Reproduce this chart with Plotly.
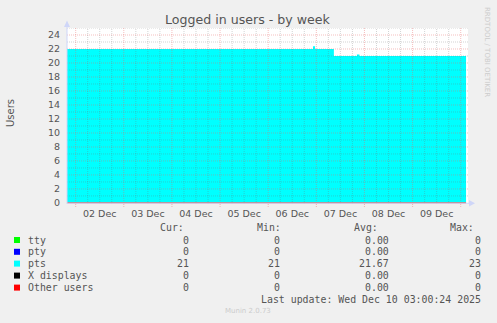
import plotly.graph_objects as go
import pandas as pd

# ---------------- data ----------------
times = ["2025-12-01 19:00", "2025-12-06 22:20", "2025-12-06 23:20", "2025-12-07 08:45",
         "2025-12-07 20:15", "2025-12-07 21:30", "2025-12-10 02:40"]
tty = [0, 0, 0, 0, 0, 0, 0]
pty = [0, 0, 0, 0, 0, 0, 0]
pts = [22, 22.4, 22, 21, 21.2, 21, 21]
xdisp = [0, 0, 0, 0, 0, 0, 0]
other = [0, 0, 0, 0, 0, 0, 0]

day_labels = ["02 Dec", "03 Dec", "04 Dec", "05 Dec", "06 Dec", "07 Dec", "08 Dec", "09 Dec"]
day_label_pos = ["2025-12-02 12:00", "2025-12-03 12:00", "2025-12-04 12:00", "2025-12-05 12:00",
                 "2025-12-06 12:00", "2025-12-07 12:00", "2025-12-08 12:00", "2025-12-09 12:00"]
y_ticks = [0, 2, 4, 6, 8, 10, 12, 14, 16, 18, 20, 22, 24]

series_names = ["tty", "pty", "pts", "X displays", "Other users"]
series_colors = ["#00ff00", "#0000ff", "#00ffff", "#000000", "#ff0000"]
cur_vals = [0, 0, 21, 0, 0]
min_vals = [0, 0, 21, 0, 0]
avg_vals = [0.00, 0.00, 21.67, 0.00, 0.00]
max_vals = [0, 0, 23, 0, 0]

x_range = ["2025-12-01 19:40", "2025-12-10 03:38"]
y_range = [-0.15, 25]

# ---------------- layout helpers ----------------
W, H = 497, 323
L, R, T, B = 67, 468, 28, 204
def px(x): return (x - L) / (R - L)
def py(y): return (B - y) / (B - T)

FONT = "DejaVu Sans"
MONO = "DejaVu Sans Mono"
TXT = "#555555"
AXIS = "#CFD6F8"

fig = go.Figure()
fig.add_trace(go.Scatter(x=times, y=pts, mode="lines", line=dict(shape="hv", width=0, color="#00ffff"),
                         fill="tozeroy", fillcolor="#00ffff", name="pts", hoverinfo="skip"))
for vals, col in [(tty, "#00ff00"), (pty, "#0000ff"), (xdisp, "#000000")]:
    fig.add_trace(go.Scatter(x=times, y=vals, mode="lines", line=dict(shape="hv", width=0, color=col),
                             hoverinfo="skip"))

shapes = []
# grid (drawn above data, like rrdtool)
MAJ = "rgba(230,100,100,0.42)"
MIN = "rgba(110,110,110,0.30)"
DASH = "1px,1px"
for v in range(1, 26):
    shapes.append(dict(type="line", xref="paper", yref="y", x0=0, x1=1, y0=v, y1=v, layer="above",
                       line=dict(color=MAJ if v % 2 == 0 else MIN, width=1, dash=DASH)))
for t in pd.date_range("2025-12-01 18:00", "2025-12-10 06:00", freq="6h"):
    if pd.Timestamp(x_range[0]) <= t <= pd.Timestamp(x_range[1]):
        major = t.hour == 0
        shapes.append(dict(type="line", xref="x", yref="paper", x0=t, x1=t,
                           y0=py(207) if major else 0, y1=1, layer="above",
                           line=dict(color=MAJ if major else MIN, width=1, dash=DASH)))
# axes + arrows
shapes.append(dict(type="line", xref="paper", yref="paper", x0=0, x1=0, y0=py(204), y1=py(26),
                   line=dict(color=AXIS, width=1), layer="above"))
shapes.append(dict(type="line", xref="paper", yref="paper", x0=0, x1=px(470), y0=py(203.3), y1=py(203.3),
                   line=dict(color=AXIS, width=1), layer="above"))
shapes.append(dict(type="path", xref="paper", yref="paper", layer="above",
                   path=f"M {px(64)} {py(27)} L {px(67)} {py(20.5)} L {px(70)} {py(27)} Z",
                   fillcolor=AXIS, line=dict(width=0)))
shapes.append(dict(type="path", xref="paper", yref="paper", layer="above",
                   path=f"M {px(469)} {py(200)} L {px(475)} {py(203.3)} L {px(469)} {py(206.6)} Z",
                   fillcolor=AXIS, line=dict(width=0)))

# Other users: red line at zero, drawn on top
fig.add_trace(go.Scatter(x=times, y=other, mode="lines", line=dict(shape="hv", width=1.5, color="#f06060"),
                         hoverinfo="skip"))

ann = []
def text(x, y, s, size, color=TXT, family=FONT, xanchor="center", angle=0):
    ann.append(dict(x=px(x), y=py(y), xref="paper", yref="paper", text=s, showarrow=False,
                    xanchor=xanchor, yanchor="middle", textangle=angle,
                    font=dict(family=family, size=size, color=color)))

text(248.3, 19, "Logged in users - by week", 12.6)
text(10, 113, "Users", 10, angle=-90)
text(487, 52, "RRDTOOL / TOBI OETIKER", 7, color="#cccccc", angle=90)

# legend table
row_y = [240, 251.8, 263.6, 275.6, 287.6]
hdr_y = 227.3
text(186, hdr_y, "Cur:", 9.9, family=MONO, xanchor="right")
text(283, hdr_y, "Min:", 9.9, family=MONO, xanchor="right")
text(380, hdr_y, "Avg:", 9.9, family=MONO, xanchor="right")
text(476, hdr_y, "Max:", 9.9, family=MONO, xanchor="right")
for i, name in enumerate(series_names):
    y = row_y[i]
    shapes.append(dict(type="rect", xref="paper", yref="paper", x0=px(14), x1=px(20), y0=py(y - 3), y1=py(y + 3),
                       fillcolor=series_colors[i], line=dict(width=0)))
    text(25.5, y, name, 9.9, family=MONO, xanchor="left")
    text(190.5, y, f"{cur_vals[i]:d}", 9.9, family=MONO, xanchor="right")
    text(281.5, y, f"{min_vals[i]:d}", 9.9, family=MONO, xanchor="right")
    text(391, y, f"{avg_vals[i]:.2f}", 9.9, family=MONO, xanchor="right")
    text(483, y, f"{max_vals[i]:d}", 9.9, family=MONO, xanchor="right")
text(483, 299.3, "Last update: Wed Dec 10 03:00:24 2025", 9.9, family=MONO, xanchor="right")
text(248, 311, "Munin 2.0.73", 7, color="#cccccc")
fig.layout.shapes = shapes

fig.update_layout(
    width=W, height=H, margin=dict(l=L, r=W - R, t=T, b=H - B, pad=0),
    paper_bgcolor="#f0f0f0", plot_bgcolor="#ffffff", showlegend=False,
    annotations=ann,
    xaxis=dict(range=x_range, type="date", tickvals=day_label_pos, ticktext=day_labels,
               showgrid=False, zeroline=False, showline=False, ticks="",
               tickfont=dict(family=FONT, size=9.5, color=TXT), ticklabelstandoff=2),
    yaxis=dict(range=y_range, tickvals=y_ticks, ticktext=[str(v) for v in y_ticks],
               showgrid=False, zeroline=False, showline=False, ticks="",
               tickfont=dict(family=FONT, size=9.5, color=TXT), ticklabelstandoff=6),
)
fig.write_html("out.html")
